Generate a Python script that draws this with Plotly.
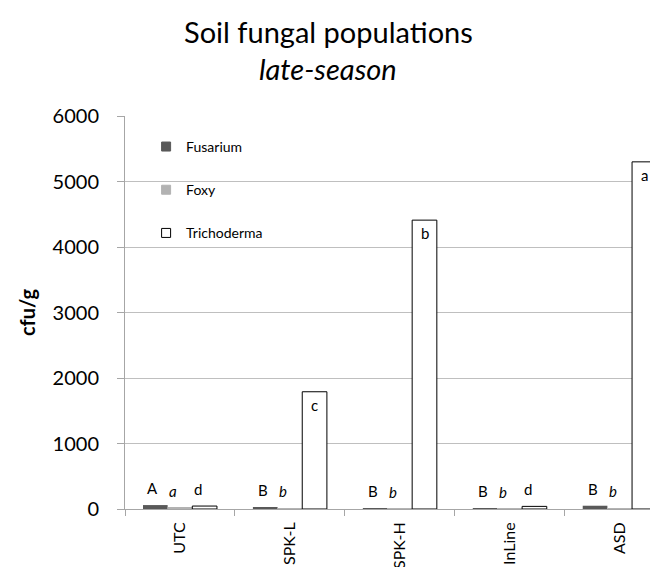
import plotly.graph_objects as go

categories = ["UTC", "SPK-L", "SPK-H", "InLine", "ASD"]
fusarium = [60, 25, 10, 10, 50]
foxy = [20, 10, 3, 3, 10]
trichoderma = [45, 1790, 4410, 40, 5300]

fusarium_letters = ["A", "B", "B", "B", "B"]
foxy_letters = ["a", "b", "b", "b", "b"]
trich_letters = ["d", "c", "b", "d", "a"]

FONT = "Lato"
fig = go.Figure()

series = [
    ("Fusarium", fusarium, "#595959", "#595959", 0),
    ("Foxy", foxy, "#b2b2b2", "#b2b2b2", 0),
    ("Trichoderma", trichoderma, "#ffffff", "#000000", 1),
]
for i, (name, vals, fill, line, lw) in enumerate(series):
    fig.add_trace(go.Bar(
        x=categories, y=vals, name=name,
        marker=dict(color=fill, line=dict(color=line, width=lw)),
        showlegend=False,
    ))
    fig.add_trace(go.Scatter(
        x=[None], y=[None], mode="markers", name=name,
        marker=dict(symbol="square", size=9, color=fill,
                    line=dict(color=line if lw else fill, width=1)),
        legendgroup=name, showlegend=True,
    ))

offsets = [-27, -7, 18]
letter_sets = [fusarium_letters, foxy_letters, trich_letters]
value_sets = [fusarium, foxy, trichoderma]
for s, (letters, vals) in enumerate(zip(letter_sets, value_sets)):
    for cat, lab, v in zip(categories, letters, vals):
        big = v > 1000
        fig.add_annotation(
            x=cat, y=v, xref="x", yref="y",
            text=f"<i>{lab}</i>" if s == 1 else lab,
            showarrow=False, xanchor="center", yanchor="middle",
            xshift=24.7 if (s == 2 and big) else offsets[s],
            yshift=-13 if big else 17,
            font=dict(family=FONT, size=15, color="#000000"),
        )

fig.add_annotation(text="Soil fungal populations", xref="paper", yref="paper",
                   x=0.3756, y=1.2142, xanchor="center", yanchor="middle",
                   showarrow=False,
                   font=dict(family=FONT, size=29, color="#000000"))
fig.add_annotation(text="<i>late-season</i>", xref="paper", yref="paper",
                   x=0.3756, y=1.1204, xanchor="center", yanchor="middle",
                   showarrow=False,
                   font=dict(family=FONT, size=29, color="#000000"))

fig.update_layout(
    width=658, height=567,
    margin=dict(l=117, r=0, t=108, b=66),
    paper_bgcolor="white", plot_bgcolor="white",
    barmode="group", bargap=0.327, bargroupgap=0,
    font=dict(family=FONT, color="#000000"),
    legend=dict(x=0.039, y=0.962, xanchor="left", yanchor="top",
                bgcolor="rgba(0,0,0,0)", tracegroupgap=22,
                font=dict(family=FONT, size=14, color="#000000")),
    xaxis=dict(range=[-0.5, 4.421], showline=True, linecolor="#a6a6a6",
               linewidth=1, tickson="boundaries", ticks="outside", ticklen=6,
               tickcolor="#a6a6a6", tickangle=-90, showgrid=False,
               ticklabelstandoff=6, automargin=False,
               tickfont=dict(family=FONT, size=16, color="#000000")),
    yaxis=dict(range=[0, 6000], tickvals=[0, 1000, 2000, 3000, 4000, 5000, 6000],
               showline=True, linecolor="#a6a6a6", linewidth=1,
               ticks="outside", ticklen=7, tickcolor="#a6a6a6",
               showgrid=True, gridcolor="#bfbfbf", gridwidth=1, zeroline=False,
               ticklabelstandoff=14, automargin=False,
               tickfont=dict(family=FONT, size=20, color="#000000"),
               title=dict(text="<b>cfu/g</b>", standoff=11,
                          font=dict(family=FONT, size=20, color="#000000"))),
)

fig.write_html("out.html")
